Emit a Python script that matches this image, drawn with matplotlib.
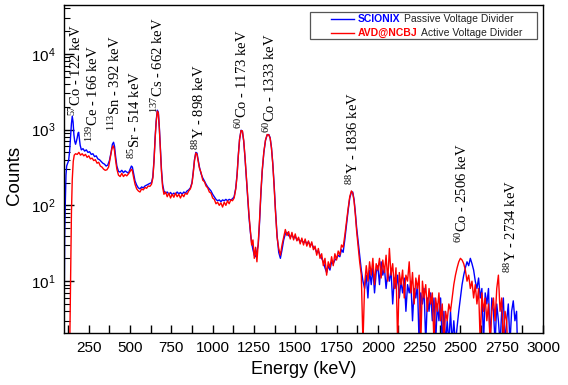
import matplotlib
matplotlib.use("Agg")
import matplotlib.pyplot as plt
from matplotlib.patches import Rectangle
from matplotlib.ticker import MultipleLocator, LogLocator

plt.rcParams["font.family"] = ["Liberation Sans", "DejaVu Sans"]
plt.rcParams["mathtext.fontset"] = "stix"

# SCIONIX passive voltage divider spectrum
scionix_energy = [
    100, 104, 108, 112, 116, 122, 128, 134, 140, 145, 150, 155, 160, 165, 170, 175, 180, 185, 189, 193,
    198, 205, 215, 225, 235, 245, 255, 265, 275, 285, 295, 305, 315, 325, 335, 345, 355, 365, 375, 385,
    393, 400, 406, 412, 420, 430, 440, 450, 460, 470, 480, 490, 500, 508, 514, 522, 530, 540, 550, 560,
    570, 580, 590, 600, 610, 620, 630, 638, 645, 652, 658, 665, 671, 677, 683, 690, 697, 705, 715, 725,
    735, 745, 755, 765, 775, 785, 795, 805, 815, 825, 835, 845, 855, 865, 875, 882, 890, 898, 905, 912,
    920, 930, 940, 950, 960, 970, 980, 990, 1000, 1010, 1020, 1030, 1040, 1050, 1060, 1070, 1080, 1090, 1100, 1110,
    1120, 1130, 1140, 1148, 1155, 1163, 1172, 1180, 1188, 1196, 1204, 1212, 1220, 1228, 1236, 1244, 1252, 1260, 1268, 1276,
    1284, 1292, 1300, 1310, 1320, 1330, 1340, 1348, 1356, 1364, 1372, 1380, 1390, 1400, 1410, 1420, 1430, 1440, 1450, 1460,
    1470, 1480, 1490, 1500, 1510, 1520, 1530, 1540, 1550, 1560, 1570, 1580, 1590, 1600, 1610, 1620, 1630, 1640, 1650, 1660,
    1670, 1680, 1690, 1700, 1710, 1720, 1730, 1740, 1750, 1760, 1770, 1780, 1790, 1800, 1810, 1820, 1830, 1840, 1848, 1856,
    1864, 1872, 1880, 1890, 1900, 1910, 1920, 1930, 1940, 1950, 1960, 1970, 1980, 1990, 2000, 2010, 2020, 2030, 2040, 2050,
    2060, 2070, 2080, 2090, 2100, 2110, 2120, 2130, 2140, 2150, 2160, 2170, 2180, 2190, 2200, 2210, 2220, 2230, 2240, 2250,
    2260, 2270, 2280, 2290, 2300, 2310, 2320, 2330, 2340, 2350, 2360, 2370, 2380, 2390, 2400, 2410, 2420, 2430, 2440, 2450,
    2460, 2470, 2480, 2490, 2500, 2510, 2520, 2530, 2540, 2550, 2560, 2570, 2580, 2590, 2600, 2610, 2620, 2630, 2640, 2650,
    2660, 2670, 2680, 2690, 2700, 2710, 2720, 2730, 2740, 2750, 2760, 2770, 2780, 2790, 2800, 2810, 2820, 2830, 2840, 2845,
]
scionix_counts = [
    1.5, 40, 110, 250, 330, 360, 390, 520, 800, 1200, 1500, 1250, 850, 700, 640, 700, 780, 900, 920, 760,
    620, 540, 560, 520, 540, 500, 510, 470, 480, 440, 450, 410, 400, 380, 360, 350, 330, 340, 390, 500,
    640, 680, 600, 450, 330, 280, 275, 290, 270, 285, 275, 265, 300, 330, 320, 260, 210, 185, 170, 165,
    175, 170, 180, 185, 190, 195, 200, 240, 400, 800, 1300, 1800, 1700, 1100, 600, 300, 190, 155, 145, 150,
    140, 148, 138, 145, 140, 150, 142, 148, 140, 150, 145, 155, 160, 170, 200, 270, 400, 500, 490, 400,
    320, 260, 230, 210, 190, 175, 165, 155, 140, 130, 120, 115, 118, 112, 118, 115, 120, 115, 120, 118,
    122, 130, 170, 260, 450, 750, 980, 950, 700, 420, 230, 120, 70, 45, 32, 26, 22, 21, 25, 30,
    60, 140, 280, 500, 720, 850, 860, 780, 580, 360, 190, 90, 40, 24, 20, 26, 35, 42, 44, 40,
    38, 41, 37, 39, 35, 36, 33, 35, 32, 34, 31, 33, 30, 31, 28, 27, 24, 25, 22, 20,
    18, 15, 13, 16, 14, 18, 17, 19, 20, 22, 21, 26, 24, 35, 55, 85, 125, 150, 150, 120,
    80, 50, 35, 22, 14, 10, 8, 12, 6, 14, 9, 15, 7, 13, 16, 9, 18, 12, 15, 8,
    13, 10, 14, 5, 11, 8, 12, 6, 10, 7, 11, 4, 9, 7, 10, 3, 8, 6, 9, 1.5,
    7, 5, 8, 1.5, 6, 4, 7, 3, 6, 1.5, 5, 3, 6, 1.5, 4, 1.5, 3, 1.5, 4, 1.5,
    3, 1.5, 2.5, 4, 6, 9, 12, 15, 18, 16, 20, 17, 14, 10, 8, 11, 6, 8, 1.5, 7,
    5, 8, 1.5, 6, 4, 1.5, 5, 3, 1.5, 4, 6, 1.5, 3, 5, 1.5, 4, 5.5, 3, 4, 1.5,
]

# AVD@NCBJ active voltage divider spectrum
avd_energy = [
    135, 140, 145, 150, 156, 162, 170, 180, 190, 200, 210, 220, 230, 240, 250, 260, 270, 280, 290, 300,
    310, 320, 330, 340, 350, 360, 370, 380, 390, 398, 405, 412, 420, 430, 440, 450, 460, 470, 480, 490,
    500, 508, 514, 522, 530, 540, 550, 560, 570, 580, 590, 600, 610, 620, 630, 638, 645, 652, 658, 665,
    671, 677, 683, 690, 697, 705, 715, 725, 735, 745, 755, 765, 775, 785, 795, 805, 815, 825, 835, 845,
    855, 865, 875, 882, 890, 898, 905, 912, 920, 930, 940, 950, 960, 970, 980, 990, 1000, 1010, 1020, 1030,
    1040, 1050, 1060, 1070, 1080, 1090, 1100, 1110, 1120, 1130, 1140, 1148, 1155, 1163, 1172, 1180, 1188, 1196, 1204, 1212,
    1220, 1228, 1236, 1244, 1252, 1260, 1268, 1276, 1284, 1292, 1300, 1310, 1320, 1330, 1340, 1348, 1356, 1364, 1372, 1380,
    1390, 1400, 1410, 1420, 1430, 1440, 1450, 1460, 1470, 1480, 1490, 1500, 1510, 1520, 1530, 1540, 1550, 1560, 1570, 1580,
    1590, 1600, 1610, 1620, 1630, 1640, 1650, 1660, 1670, 1680, 1690, 1700, 1710, 1720, 1730, 1740, 1750, 1760, 1770, 1780,
    1790, 1800, 1810, 1820, 1830, 1840, 1848, 1856, 1864, 1872, 1880, 1890, 1900, 1910, 1920, 1930, 1940, 1950, 1960, 1970,
    1980, 1990, 2000, 2010, 2020, 2030, 2040, 2050, 2060, 2070, 2080, 2090, 2100, 2110, 2120, 2130, 2140, 2150, 2160, 2170,
    2180, 2190, 2200, 2210, 2220, 2230, 2240, 2250, 2260, 2270, 2280, 2290, 2300, 2310, 2320, 2330, 2340, 2350, 2360, 2370,
    2380, 2390, 2400, 2410, 2420, 2430, 2440, 2450, 2460, 2470, 2480, 2490, 2500, 2510, 2520, 2530, 2540, 2550, 2560, 2570,
    2580, 2590, 2600, 2610, 2620, 2630, 2640, 2650, 2660, 2670, 2680, 2690, 2700, 2710, 2720, 2730, 2740, 2750, 2760, 2770,
    2780, 2785,
]
avd_counts = [
    1.5, 10, 80, 220, 380, 460, 480, 470, 500, 460, 480, 450, 470, 430, 450, 410, 420, 390, 400, 360,
    370, 330, 320, 300, 290, 295, 320, 420, 560, 610, 540, 400, 300, 250, 240, 265, 240, 255, 245, 260,
    280, 300, 285, 230, 190, 165, 155, 150, 165, 160, 172, 168, 180, 178, 190, 230, 380, 780, 1250, 1750,
    1650, 1050, 560, 280, 175, 140, 150, 130, 145, 125, 140, 128, 145, 130, 140, 125, 140, 130, 145, 140,
    155, 165, 195, 260, 390, 490, 470, 390, 310, 270, 215, 205, 180, 170, 150, 145, 125, 120, 105, 110,
    100, 108, 95, 110, 100, 115, 105, 118, 115, 125, 165, 250, 440, 740, 970, 960, 720, 430, 240, 130,
    75, 48, 30, 35, 20, 28, 18, 32, 65, 150, 290, 510, 730, 860, 850, 770, 570, 350, 180, 85,
    38, 27, 22, 30, 38, 48, 40, 45, 36, 44, 35, 42, 34, 38, 31, 37, 30, 36, 29, 34,
    28, 33, 26, 29, 22, 27, 20, 23, 16, 20, 12, 18, 15, 21, 16, 23, 19, 25, 22, 30,
    28, 40, 60, 90, 130, 155, 145, 115, 75, 45, 30, 18, 12, 1.5, 9, 16, 10, 18, 12, 20,
    9, 17, 14, 20, 11, 19, 13, 22, 10, 27, 12, 17, 8, 15, 1.5, 13, 9, 14, 6, 12,
    10, 18, 7, 13, 5, 11, 8, 12, 1.5, 10, 6, 9, 4, 8, 5, 7, 1.5, 6, 4, 7,
    3, 5, 1.5, 4, 3, 5, 4, 6, 9, 12, 15, 18, 20, 19, 17, 14, 10, 12, 8, 10,
    6, 9, 5, 8, 1.5, 7, 4, 6, 3, 5, 1.5, 4, 6, 3, 8, 12, 4, 6, 1.5, 4,
    3, 1.5,
]

peak_labels = [
    r"$^{\mathdefault{57}}$Co - 122 keV",
    r"$^{\mathdefault{139}}$Ce - 166 keV",
    r"$^{\mathdefault{113}}$Sn - 392 keV",
    r"$^{\mathdefault{85}}$Sr - 514 keV",
    r"$^{\mathdefault{137}}$Cs - 662 keV",
    r"$^{\mathdefault{88}}$Y - 898 keV",
    r"$^{\mathdefault{60}}$Co - 1173 keV",
    r"$^{\mathdefault{60}}$Co - 1333 keV",
    r"$^{\mathdefault{88}}$Y - 1836 keV",
    r"$^{\mathdefault{60}}$Co - 2506 keV",
    r"$^{\mathdefault{88}}$Y - 2734 keV",
]
# where each rotated label sits: x centre (keV), bottom edge (counts)
label_x = [171, 272, 407, 528, 670, 918, 1174, 1345, 1847, 2509, 2805]
label_y = [1520, 680, 970, 415, 1630, 530, 1030, 890, 183, 31.6, 12.7]

fig = plt.figure(figsize=(5.68, 3.85), dpi=100)
ax = fig.add_axes([64 / 568, 52 / 385, 479 / 568, 328 / 385])

ax.plot(scionix_energy, scionix_counts, color="#0000ff", lw=1.0)
ax.plot(avd_energy, avd_counts, color="#ff0000", lw=1.0)

ax.set_yscale("log")
ax.set_xlim(100, 3000)
ax.set_ylim(2.07, 4.4e4)
ax.xaxis.set_major_locator(MultipleLocator(250))
ax.xaxis.set_minor_locator(MultipleLocator(125))
ax.yaxis.set_major_locator(LogLocator(base=10, numticks=10))
ax.yaxis.set_minor_locator(LogLocator(base=10, subs=range(2, 10), numticks=10))

ax.tick_params(which="both", direction="in", top=False, right=False, width=1)
ax.tick_params(axis="x", which="both", length=6, labelsize=11, pad=6)
ax.tick_params(axis="y", which="major", length=7, labelsize=11, pad=6)
ax.tick_params(axis="y", which="minor", length=4, width=0.8)
for s in ax.spines.values():
    s.set_linewidth(1.0)

ax.set_xlabel("Energy (keV)", fontsize=13)
ax.set_ylabel("Counts", fontsize=13.5)
ax.yaxis.set_label_coords(-0.085, 0.48)

for txt, x, y in zip(peak_labels, label_x, label_y):
    ax.text(x, y, txt, rotation=90, ha="center", va="bottom",
            family="Liberation Serif", fontsize=10.5)

# legend box, built by hand so the brand names can be coloured
ax.add_patch(Rectangle((0.514, 0.896), 0.473, 0.083, transform=ax.transAxes,
                       fill=False, edgecolor="#555555", lw=0.9, zorder=5))
rows = [(0.956, "#0000ff", "SCIONIX", "Passive Voltage Divider"),
        (0.9155, "#ff0000", "AVD@NCBJ", "Active Voltage Divider")]
for y, col, brand, rest in rows:
    ax.plot([0.557, 0.605], [y, y], color=col, lw=1.0, transform=ax.transAxes, zorder=6)
    t = ax.text(0.614, y, brand, color=col, fontweight="bold", fontsize=7.5,
                va="center", ha="left", transform=ax.transAxes, zorder=6)
    ax.annotate(rest, xy=(1, 0), xycoords=t, xytext=(2.5, 0),
                textcoords="offset points", va="bottom", ha="left",
                fontsize=7.5, color="#222222", zorder=6)

fig.savefig("out.png", dpi=100)
